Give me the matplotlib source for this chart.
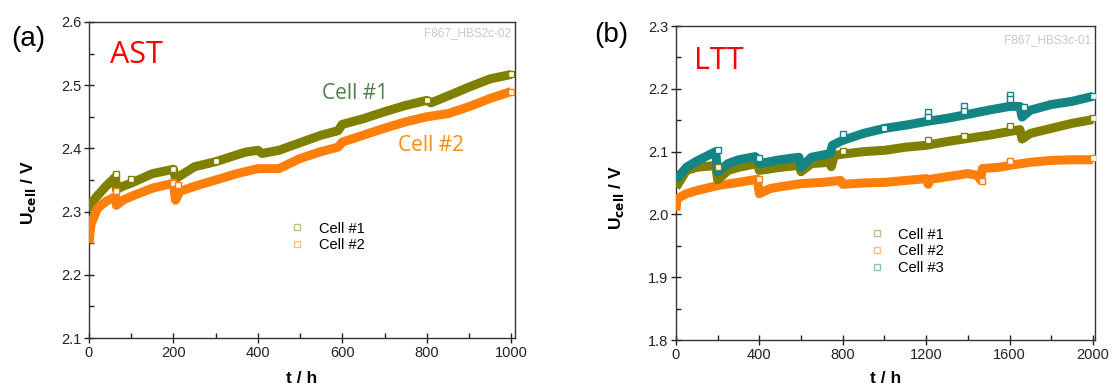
import matplotlib
matplotlib.use("Agg")
import matplotlib.pyplot as plt
from matplotlib.lines import Line2D
from matplotlib.ticker import MultipleLocator, FormatStrFormatter

plt.rcParams['font.family'] = ['Liberation Sans', 'DejaVu Sans']

# ---- data: (a) AST, 1000 h ----
ast_t1 = [0, 5, 20, 40, 63, 65, 80, 100, 150, 200, 205, 250, 300, 370, 400, 410,
          450, 500, 550, 590, 600, 650, 700, 750, 800, 810, 850, 900, 950, 1000]
ast_u1 = [2.302, 2.313, 2.325, 2.34, 2.355, 2.335, 2.34, 2.345, 2.36, 2.367, 2.352,
          2.371, 2.379, 2.394, 2.397, 2.392, 2.397, 2.409, 2.421, 2.428, 2.438,
          2.447, 2.458, 2.468, 2.476, 2.472, 2.483, 2.497, 2.51, 2.517]
ast_t2 = [0, 5, 20, 40, 63, 65, 80, 100, 150, 200, 205, 215, 250, 300, 350, 400,
          450, 500, 550, 590, 600, 650, 700, 750, 800, 850, 900, 950, 1000]
ast_u2 = [2.25, 2.28, 2.305, 2.316, 2.324, 2.31, 2.318, 2.324, 2.337, 2.345, 2.318,
          2.332, 2.34, 2.35, 2.36, 2.368, 2.368, 2.384, 2.395, 2.402, 2.41, 2.421,
          2.432, 2.442, 2.45, 2.455, 2.466, 2.479, 2.49]
# scattered single points lying off the band
ast_out_t1 = [63, 100, 200, 300, 800, 1000]
ast_out_u1 = [2.359, 2.352, 2.368, 2.38, 2.477, 2.518]
ast_out_t2 = [63, 200, 210, 1000]
ast_out_u2 = [2.333, 2.345, 2.342, 2.49]

# ---- data: (b) LTT, 2000 h ----
ltt_t1 = [0, 50, 100, 190, 200, 250, 300, 390, 400, 500, 590, 600, 650, 740, 745,
          760, 800, 900, 1000, 1100, 1200, 1300, 1400, 1500, 1600, 1650, 1660,
          1700, 1800, 1900, 2000]
ltt_u1 = [2.043, 2.07, 2.075, 2.078, 2.055, 2.07, 2.075, 2.081, 2.07, 2.075, 2.078,
          2.068, 2.081, 2.083, 2.076, 2.094, 2.096, 2.1, 2.102, 2.107, 2.11, 2.116,
          2.121, 2.126, 2.132, 2.135, 2.12, 2.129, 2.137, 2.145, 2.151]
ltt_t2 = [0, 5, 50, 100, 200, 300, 390, 400, 450, 500, 600, 700, 790, 800, 900,
          1000, 1100, 1200, 1210, 1220, 1300, 1400, 1450, 1460, 1470, 1550, 1600,
          1700, 1800, 1900, 2000]
ltt_u2 = [2.006, 2.025, 2.033, 2.038, 2.046, 2.051, 2.056, 2.033, 2.041, 2.044,
          2.049, 2.051, 2.054, 2.048, 2.05, 2.051, 2.054, 2.057, 2.048, 2.056,
          2.06, 2.065, 2.062, 2.055, 2.073, 2.075, 2.078, 2.083, 2.086, 2.087, 2.087]
ltt_t3 = [0, 50, 100, 190, 200, 210, 250, 300, 380, 400, 500, 590, 600, 650, 740,
          750, 800, 900, 1000, 1100, 1200, 1300, 1380, 1500, 1600, 1650, 1660,
          1700, 1800, 1900, 2000]
ltt_u3 = [2.055, 2.075, 2.085, 2.1, 2.068, 2.07, 2.081, 2.087, 2.092, 2.081,
          2.087, 2.091, 2.075, 2.091, 2.097, 2.11, 2.118, 2.129, 2.137, 2.142,
          2.148, 2.153, 2.158, 2.166, 2.172, 2.172, 2.155, 2.166, 2.175, 2.18, 2.188]
ltt_out_t1 = [200, 800, 1210, 1380, 1600, 2000]
ltt_out_u1 = [2.076, 2.101, 2.118, 2.125, 2.14, 2.153]
ltt_out_t2 = [400, 1470, 1600, 2000]
ltt_out_u2 = [2.056, 2.053, 2.085, 2.09]
ltt_out_t3 = [200, 400, 800, 1000, 1210, 1210, 1380, 1380, 1600, 1600, 1670, 2000]
ltt_out_u3 = [2.102, 2.09, 2.128, 2.137, 2.163, 2.155, 2.173, 2.165, 2.19, 2.183,
              2.171, 2.188]

olive = '#7f8000'
orange = '#ff7f0a'
teal = '#138585'

fig = plt.figure(figsize=(11.12, 3.9), dpi=100)
ax1 = fig.add_axes([0.0800, 0.1333, 0.3831, 0.8103])
ax2 = fig.add_axes([0.6079, 0.1282, 0.3768, 0.8051])


def band(ax, t, u, out_t, out_u, color):
    # dense data drawn as a thick band, stray points as open squares
    ax.plot(t, u, '-', color=color, lw=6.5, solid_capstyle='butt', zorder=3)
    ax.plot(out_t, out_u, 's', mfc='white', mec=color, ms=4.5, mew=1.0, zorder=4)


band(ax1, ast_t1, ast_u1, ast_out_t1, ast_out_u1, olive)
band(ax1, ast_t2, ast_u2, ast_out_t2, ast_out_u2, orange)

band(ax2, ltt_t2, ltt_u2, ltt_out_t2, ltt_out_u2, orange)
band(ax2, ltt_t1, ltt_u1, ltt_out_t1, ltt_out_u1, olive)
band(ax2, ltt_t3, ltt_u3, ltt_out_t3, ltt_out_u3, teal)

ax1.set_xlim(0, 1009)
ax1.set_ylim(2.1, 2.6)
ax1.xaxis.set_major_locator(MultipleLocator(200))
ax1.xaxis.set_minor_locator(MultipleLocator(100))
ax1.yaxis.set_major_locator(MultipleLocator(0.1))
ax1.yaxis.set_minor_locator(MultipleLocator(0.05))

ax2.set_xlim(0, 2010)
ax2.set_ylim(1.8, 2.3)
ax2.xaxis.set_major_locator(MultipleLocator(400))
ax2.xaxis.set_minor_locator(MultipleLocator(200))
ax2.yaxis.set_major_locator(MultipleLocator(0.1))
ax2.yaxis.set_minor_locator(MultipleLocator(0.05))

for ax in (ax1, ax2):
    ax.tick_params(which='major', direction='inout', length=7, width=1,
                   labelsize=10.5, colors='#222222', pad=2)
    ax.tick_params(which='minor', direction='in', length=3.5, width=1,
                   colors='#222222')
    ax.tick_params(top=False, right=False, which='both')
    for s in ax.spines.values():
        s.set_color('#333333')
        s.set_linewidth(1.0)
    ax.set_xlabel('t / h', fontsize=12.5, fontweight='bold')
    ax.set_ylabel(r'U$_{\mathbf{cell}}$ / V', fontsize=12.5, fontweight='bold')
    ax.yaxis.set_major_formatter(FormatStrFormatter('%.1f'))

ax1.xaxis.set_label_coords(0.50, -0.105)
ax1.yaxis.set_label_coords(-0.12, 0.46)
ax2.xaxis.set_label_coords(0.50, -0.10)
ax2.yaxis.set_label_coords(-0.12, 0.455)

# panel texts
fig.text(0.010, 0.90, '(a)', fontsize=20, va='center', ha='left')
fig.text(0.534, 0.91, '(b)', fontsize=20, va='center', ha='left')
ax1.text(0.05, 0.895, 'AST', transform=ax1.transAxes, color='#ff0000',
         fontsize=22, family='Open Sans', va='center', ha='left')
ax2.text(0.043, 0.89, 'LTT', transform=ax2.transAxes, color='#ff0000',
         fontsize=22, family='Open Sans', va='center', ha='left')
ax1.text(0.548, 0.775, 'Cell #1', transform=ax1.transAxes, color='#4f7f4a',
         fontsize=15, family='Open Sans', va='center', ha='left')
ax1.text(0.725, 0.61, 'Cell #2', transform=ax1.transAxes, color='#ff8c10',
         fontsize=15, family='Open Sans', va='center', ha='left')
ax1.text(0.99, 0.965, 'F867_HBS2c-02', transform=ax1.transAxes, color='#c8c8c8',
         fontsize=8.5, va='center', ha='right')
ax2.text(0.99, 0.955, 'F867_HBS3c-01', transform=ax2.transAxes, color='#c8c8c8',
         fontsize=8.5, va='center', ha='right')


# legends
def handle(color):
    return Line2D([], [], ls='none', marker='s', mfc='none', mec=color,
                  alpha=0.5, ms=5, mew=1)


ax1.legend([handle(olive), handle(orange)], ['Cell #1', 'Cell #2'],
           loc='upper left', bbox_to_anchor=(0.44, 0.41), frameon=False,
           fontsize=10.5, handlelength=1.0, handletextpad=1.0, labelspacing=0.2)
ax2.legend([handle(olive), handle(orange), handle(teal)],
           ['Cell #1', 'Cell #2', 'Cell #3'],
           loc='upper left', bbox_to_anchor=(0.43, 0.40), frameon=False,
           fontsize=10.5, handlelength=1.0, handletextpad=1.0, labelspacing=0.2)

fig.savefig('out.png', dpi=100)
